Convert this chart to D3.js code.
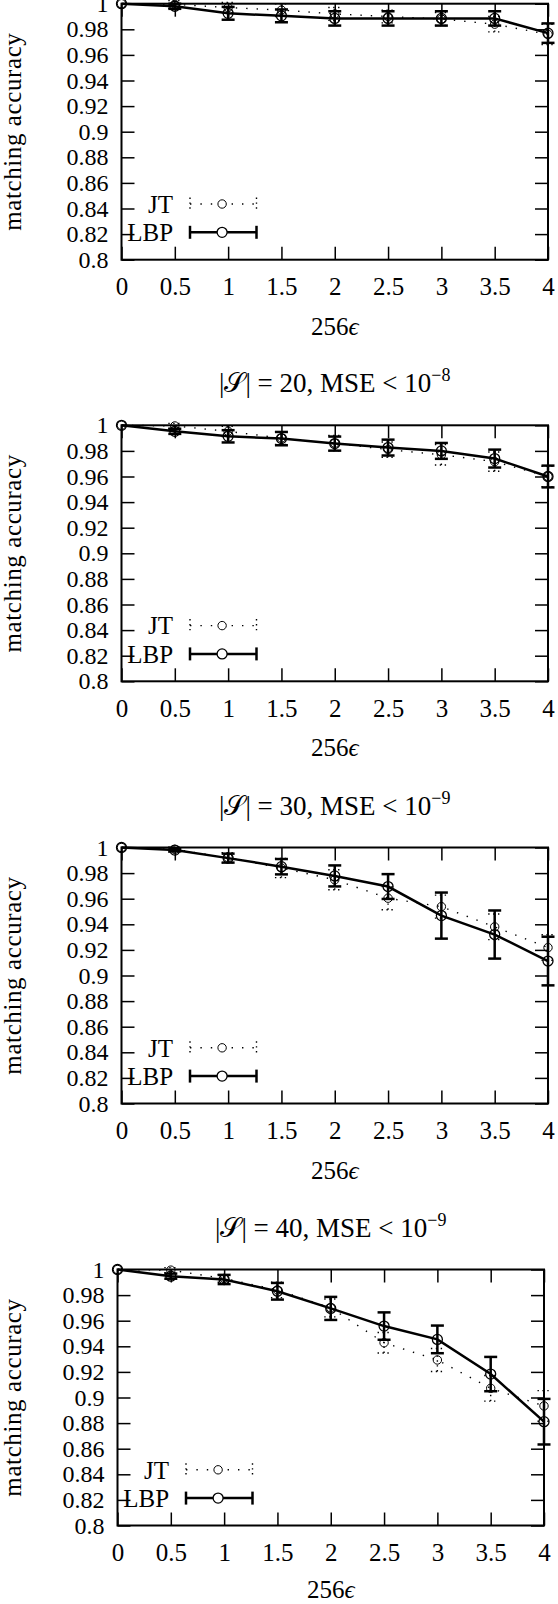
<!DOCTYPE html>
<html>
<head>
<meta charset="utf-8">
<script src="https://cdn.jsdelivr.net/npm/d3@7"></script>
<style>
  body { margin: 0; background: #fff; }
</style>
</head>
<body>
<svg id="chart"></svg>
<script>
// epsilon values on the x axis (256 * eps)
var xValues = [0, 0.5, 1, 1.5, 2, 2.5, 3, 3.5, 4];
var xTicks = [0, 0.5, 1, 1.5, 2, 2.5, 3, 3.5, 4];
var yTicks = [0.8, 0.82, 0.84, 0.86, 0.88, 0.9, 0.92, 0.94, 0.96, 0.98, 1];

// panel headers: |S| and MSE exponent (first panel title is cut off)
var setSizes = [null, 20, 30, 40];
var mseExps = [null, "\u22128", "\u22129", "\u22129"];

// panel 1
var jtAcc1  = [1, 0.9995, 0.997, 0.995, 0.992, 0.990, 0.988, 0.984, 0.976];
var jtErr1  = [0, 0.003, 0.004, 0.005, 0.005, 0.005, 0.005, 0.006, 0.008];
var lbpAcc1 = [1, 0.998, 0.9925, 0.9905, 0.9885, 0.9885, 0.9885, 0.9885, 0.977];
var lbpErr1 = [0, 0.002, 0.005, 0.005, 0.0056, 0.0056, 0.0056, 0.0056, 0.0076];

// panel 2
var jtAcc2  = [1, 0.9995, 0.9953, 0.990, 0.986, 0.981, 0.977, 0.9716, 0.960];
var jtErr2  = [0, 0.002, 0.004, 0.005, 0.006, 0.006, 0.008, 0.0075, 0.008];
var lbpAcc2 = [1, 0.9953, 0.9914, 0.9896, 0.9857, 0.9826, 0.980, 0.974, 0.960];
var lbpErr2 = [0, 0.002, 0.0048, 0.0052, 0.0055, 0.0062, 0.0062, 0.007, 0.0085];

// panel 3
var jtAcc3  = [1, 0.9985, 0.992, 0.984, 0.9748, 0.9604, 0.9538, 0.938, 0.9218];
var jtErr3  = [0, 0.002, 0.004, 0.0075, 0.0078, 0.009, 0.009, 0.010, 0.010];
var lbpAcc3 = [1, 0.998, 0.9917, 0.985, 0.9778, 0.9695, 0.9468, 0.932, 0.9113];
var lbpErr3 = [0, 0.001, 0.0035, 0.006, 0.0082, 0.0097, 0.018, 0.0188, 0.019];

// panel 4
var jtAcc4  = [1, 0.9995, 0.993, 0.984, 0.970, 0.9428, 0.9293, 0.9072, 0.8934];
var jtErr4  = [0, 0.002, 0.003, 0.006, 0.007, 0.008, 0.009, 0.010, 0.012];
var lbpAcc4 = [1, 0.9948, 0.9922, 0.983, 0.9696, 0.9558, 0.9454, 0.9183, 0.8811];
var lbpErr4 = [0, 0.002, 0.0036, 0.0065, 0.009, 0.0107, 0.0108, 0.0134, 0.0178];

var W = 558, H = 1604;
var font = "'Liberation Serif', 'Times New Roman', serif";

var svg = d3.select("#chart")
    .attr("width", W)
    .attr("height", H)
    .attr("font-family", font);

var panels = [
    {top: 3.7,    left: 121.5, xlab: 75, jt: jtAcc1, jtE: jtErr1, lbp: lbpAcc1, lbpE: lbpErr1},
    {top: 425.3,  left: 121.5, xlab: 75, jt: jtAcc2, jtE: jtErr2, lbp: lbpAcc2, lbpE: lbpErr2},
    {top: 847.5,  left: 121.5, xlab: 75, jt: jtAcc3, jtE: jtErr3, lbp: lbpAcc3, lbpE: lbpErr3},
    {top: 1269.5, left: 117.5, xlab: 72, jt: jtAcc4, jtE: jtErr4, lbp: lbpAcc4, lbpE: lbpErr4}
];

var pw = 426.5, ph = 256;
var fmt = d3.format("~g");

panels.forEach(function(p, pi) {
    var g = svg.append("g");
    var x = d3.scaleLinear().domain([0, 4]).range([p.left, p.left + pw]);
    var y = d3.scaleLinear().domain([0.8, 1]).range([p.top + ph, p.top]);

    // axes, ticks pointing inward
    var bottom = g.append("g")
        .attr("transform", "translate(0," + (p.top + ph) + ")")
        .call(d3.axisBottom(x).tickValues(xTicks).tickSizeInner(-13).tickSizeOuter(0).tickPadding(17.5).tickFormat(fmt));
    var left = g.append("g")
        .attr("transform", "translate(" + p.left + ",0)")
        .call(d3.axisLeft(y).tickValues(yTicks).tickSizeInner(-13).tickSizeOuter(0).tickPadding(13).tickFormat(fmt));
    var topAx = g.append("g")
        .attr("transform", "translate(0," + p.top + ")")
        .call(d3.axisTop(x).tickValues(xTicks).tickSizeInner(-13).tickSizeOuter(0).tickFormat(""));
    var right = g.append("g")
        .attr("transform", "translate(" + (p.left + pw) + ",0)")
        .call(d3.axisRight(y).tickValues(yTicks).tickSizeInner(-13).tickSizeOuter(0).tickFormat(""));

    [bottom, left, topAx, right].forEach(function(a) {
        a.select(".domain").remove();
        a.attr("font-family", font);
        a.selectAll(".tick line").attr("stroke", "#000").attr("stroke-width", 1.5);
        a.selectAll(".tick text").attr("fill", "#000");
    });
    bottom.attr("font-size", 25);
    left.attr("font-size", 24);

    // frame
    g.append("rect")
        .attr("x", p.left)
        .attr("y", p.top)
        .attr("width", pw)
        .attr("height", ph)
        .attr("fill", "none")
        .attr("stroke", "#000")
        .attr("stroke-width", 2);

    // title
    if (setSizes[pi] !== null) {
        var t = g.append("text")
            .attr("x", p.left + pw / 2)
            .attr("y", p.top - 33)
            .attr("text-anchor", "middle")
            .attr("font-size", 27);
        t.append("tspan").text("|\uD835\uDCAE| = " + setSizes[pi] + ", MSE < 10");
        t.append("tspan").attr("dy", -11).attr("font-size", 18).text(mseExps[pi]);
    }

    // axis labels
    var xl = g.append("text")
        .attr("x", p.left + pw / 2)
        .attr("y", p.top + ph + p.xlab)
        .attr("text-anchor", "middle")
        .attr("font-size", 25);
    xl.append("tspan").text("256");
    xl.append("tspan").attr("font-style", "italic").text("\u03F5");

    g.append("text")
        .attr("transform", "translate(21," + (p.top + ph / 2) + ") rotate(-90)")
        .attr("text-anchor", "middle")
        .attr("font-size", 25)
        .style("letter-spacing", "0.6px")
        .text("matching accuracy");

    var jtPts = xValues.map(function(v, i) { return {x: v, y: p.jt[i], e: p.jtE[i]}; });
    var lbpPts = xValues.map(function(v, i) { return {x: v, y: p.lbp[i], e: p.lbpE[i]}; });

    var line = d3.line()
        .x(function(d) { return x(d.x); })
        .y(function(d) { return y(d.y); });

    // error bars helper
    function errorBars(sel, pts, width, dash) {
        var eb = sel.selectAll("g.eb")
            .data(pts.filter(function(d) { return d.e > 0; }))
            .enter()
            .append("g")
            .attr("class", "eb")
            .attr("stroke", "#000")
            .attr("stroke-width", width)
            .attr("stroke-dasharray", dash);
        eb.append("line")
            .attr("x1", function(d) { return x(d.x); })
            .attr("x2", function(d) { return x(d.x); })
            .attr("y1", function(d) { return y(d.y - d.e); })
            .attr("y2", function(d) { return y(d.y + d.e); });
        [-1, 1].forEach(function(s) {
            eb.append("line")
                .attr("x1", function(d) { return x(d.x) - 6.5; })
                .attr("x2", function(d) { return x(d.x) + 6.5; })
                .attr("y1", function(d) { return y(d.y + s * d.e); })
                .attr("y2", function(d) { return y(d.y + s * d.e); });
        });
    }

    // JT (dotted)
    var jtG = g.append("g");
    jtG.append("path")
        .datum(jtPts)
        .attr("d", line)
        .attr("fill", "none")
        .attr("stroke", "#000")
        .attr("stroke-width", 1.4)
        .attr("stroke-dasharray", "1.4 9");
    errorBars(jtG, jtPts, 1.4, "1.4 3.5");
    jtG.selectAll("circle")
        .data(jtPts)
        .enter()
        .append("circle")
        .attr("cx", function(d) { return x(d.x); })
        .attr("cy", function(d) { return y(d.y); })
        .attr("r", 4.2)
        .attr("fill", "none")
        .attr("stroke", "#000")
        .attr("stroke-width", 1);

    // LBP (solid)
    var lbpG = g.append("g");
    lbpG.append("path")
        .datum(lbpPts)
        .attr("d", line)
        .attr("fill", "none")
        .attr("stroke", "#000")
        .attr("stroke-width", 2.5);
    errorBars(lbpG, lbpPts, 2.5, null);
    lbpG.selectAll("circle")
        .data(lbpPts)
        .enter()
        .append("circle")
        .attr("cx", function(d) { return x(d.x); })
        .attr("cy", function(d) { return y(d.y); })
        .attr("r", 5)
        .attr("fill", "none")
        .attr("stroke", "#000")
        .attr("stroke-width", 1.3);

    // legend
    var legend = [
        {name: "JT", dy: -55.7, w: 1.4, dash: "1.4 9", capDash: "1.4 3.5", r: 4.2, cw: 1},
        {name: "LBP", dy: -27.4, w: 2.5, dash: null, capDash: null, r: 5, cw: 1.3}
    ];
    var lx1 = p.left + 68.5, lx2 = p.left + 135, lxc = p.left + 100.6;
    legend.forEach(function(l) {
        var ly = p.top + ph + l.dy;
        g.append("text")
            .attr("x", p.left + 51.6)
            .attr("y", ly)
            .attr("dy", "0.35em")
            .attr("text-anchor", "end")
            .attr("font-size", 25)
            .text(l.name);
        g.append("line")
            .attr("x1", lx1).attr("x2", lx2).attr("y1", ly).attr("y2", ly)
            .attr("stroke", "#000").attr("stroke-width", l.w)
            .attr("stroke-dasharray", l.dash);
        [lx1, lx2].forEach(function(cx) {
            g.append("line")
                .attr("x1", cx).attr("x2", cx).attr("y1", ly - 6.5).attr("y2", ly + 6.5)
                .attr("stroke", "#000").attr("stroke-width", l.w)
                .attr("stroke-dasharray", l.capDash);
        });
        g.append("circle")
            .attr("cx", lxc).attr("cy", ly).attr("r", l.r)
            .attr("fill", "#fff").attr("stroke", "#000").attr("stroke-width", l.cw);
    });
});
</script>
</body>
</html>
